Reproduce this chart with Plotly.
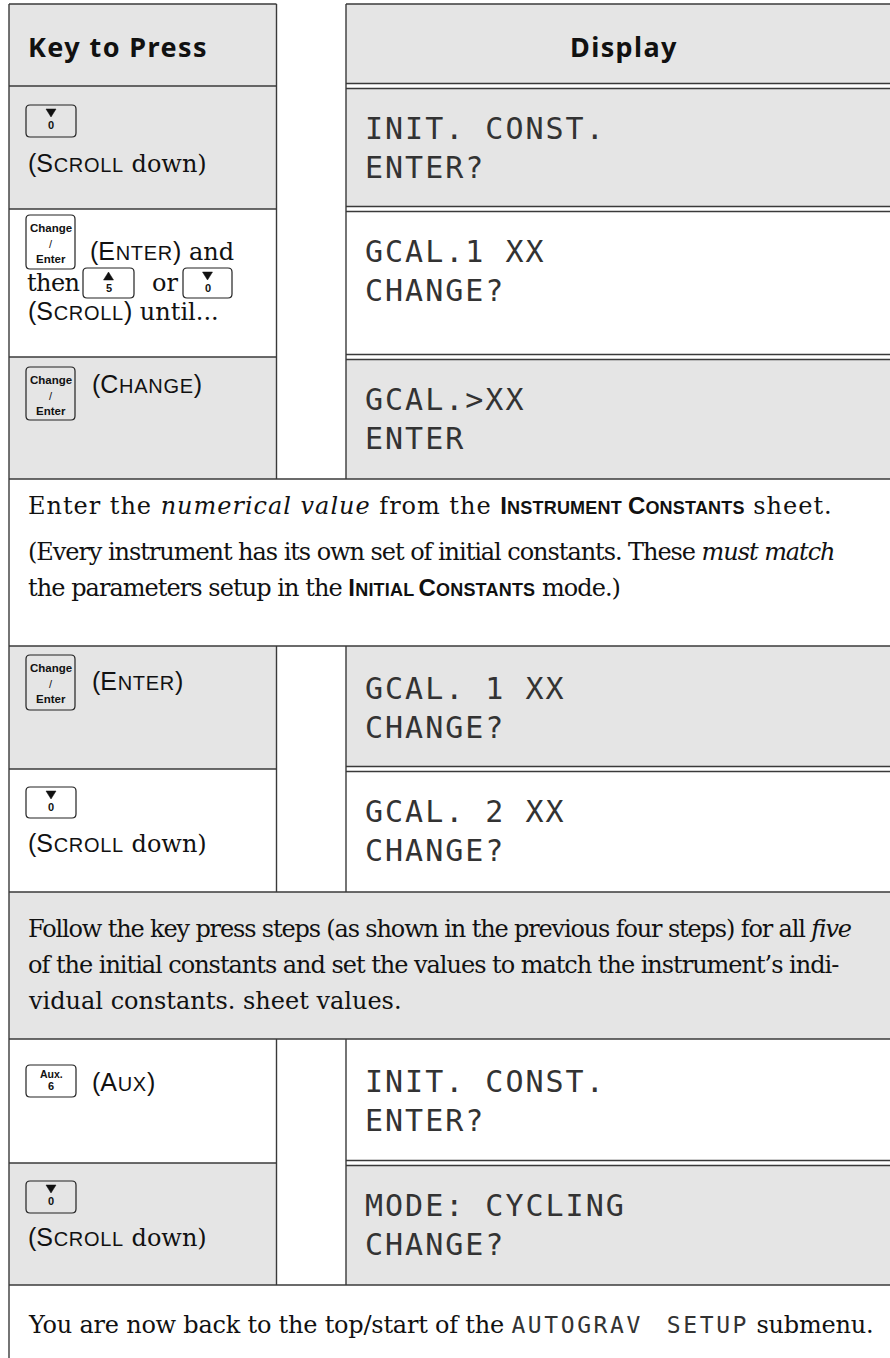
import re
import plotly.graph_objects as go

# ---------------- content ----------------
header_key = "Key to Press"
header_display = "Display"

display_line1 = ["INIT. CONST.", "GCAL.1 XX", "GCAL.>XX", "GCAL. 1 XX", "GCAL. 2 XX", "INIT. CONST.", "MODE: CYCLING"]
display_line2 = ["ENTER?", "CHANGE?", "ENTER", "CHANGE?", "CHANGE?", "ENTER?", "CHANGE?"]

note1_lines = [
    "Enter the <i>numerical value</i> from the {INSTRUMENT CONSTANTS} sheet.",
    "(Every instrument has its own set of initial constants. These <i>must match</i>",
    "the parameters setup in the {INITIAL CONSTANTS} mode.)",
]
note2_lines = [
    "Follow the key press steps (as shown in the previous four steps) for all <i>five</i>",
    "of the initial constants and set the values to match the instrument\u2019s indi-",
    "vidual constants. sheet values.",
]
tail_text = "You are now back to the top/start of the {{AUTOGRAV SETUP}} submenu."

# ---------------- styling / layout ----------------
W, H = 890, 1358
SERIF = "DejaVu Serif"
SANS = "Liberation Sans"
MONO = "DejaVu Sans Mono"
HEAD = "Noto Sans"
GRAY = "#e5e5e5"
LINE = "#3a3a3a"
TXT = "#111111"

XL, XM1, XM2, XR = 9, 276.5, 346, 892
row_edges = [4, 86, 209, 357, 479, 646, 769, 892, 1039, 1163, 1285, 1358]
row_kind = ["head", "step", "step", "step", "note", "step", "step", "note", "step", "step", "tail"]
row_fill = [GRAY, GRAY, "white", GRAY, "white", GRAY, "white", GRAY, "white", GRAY, "white"]

# justification tweaks (letter spacing, px) for the long note lines
note1_spacing = [0.98, -1.05, -0.95]
note2_spacing = [-1.15, -1.02, 0.0]
tail_spacing = -0.22

shapes = []
ann = []


def line(x0, y0, x1, y1, w=1.4, c=LINE):
    shapes.append(dict(type="line", xref="x", yref="y", x0=x0, y0=y0, x1=x1, y1=y1,
                       line=dict(color=c, width=w), layer="above"))


def rect(x0, y0, x1, y1, fill):
    shapes.append(dict(type="rect", xref="x", yref="y", x0=x0, y0=y0, x1=x1, y1=y1,
                       fillcolor=fill, line=dict(width=0), layer="below"))


def text(x, y, s, size=24, family=SERIF, anchor="left", color=TXT):
    ann.append(dict(x=x, y=y, xref="x", yref="y", text=s, showarrow=False,
                    xanchor=anchor, yanchor="middle", align="left",
                    font=dict(family=family, size=size, color=color)))


def sc(word, big=25, small=20, bold=False, spacing=0.7):
    out = []
    for i, w in enumerate(word.split(" ")):
        if i:
            out.append(f'<span style="font-family:{SANS};font-size:{small}px"> </span>')
        out.append(f'<span style="font-family:{SANS};font-size:{big}px;letter-spacing:{spacing}px">{w[0]}</span>'
                   f'<span style="font-family:{SANS};font-size:{small}px;letter-spacing:{spacing}px">{w[1:]}</span>')
    s = "".join(out)
    return f"<b>{s}</b>" if bold else s


def sp(s):
    return f'<span style="font-family:{SANS};font-size:25px">{s}</span>'


def disp(s, size=30, spacing=2.0):
    return f'<span style="font-family:{MONO};font-size:{size}px;letter-spacing:{spacing}px">{s}</span>'


def mono_inline(s, size=23, spacing=2.6):
    parts = s.split(" ")
    gap = f'<span style="font-family:{MONO};font-size:{size}px;letter-spacing:10px">\u00a0</span>'
    return gap.join(f'<span style="font-family:{MONO};font-size:{size}px;letter-spacing:{spacing}px;fill:#333">{p}</span>'
                    for p in parts)


def fmt(s, spacing=0.0):
    s = re.sub(r"\{\{(.+?)\}\}", lambda m: mono_inline(m.group(1)), s)
    s = re.sub(r"\{(.+?)\}", lambda m: sc(m.group(1), big=24, small=18, bold=True, spacing=0.2), s)
    return f'<span style="letter-spacing:{spacing}px">{s}</span>'


def rrect_path(x0, y0, x1, y1, r=4):
    return (f"M{x0+r},{y0} L{x1-r},{y0} Q{x1},{y0} {x1},{y0+r} L{x1},{y1-r} Q{x1},{y1} {x1-r},{y1} "
            f"L{x0+r},{y1} Q{x0},{y1} {x0},{y1-r} L{x0},{y0+r} Q{x0},{y0} {x0+r},{y0} Z")


def key(kind, x0, y0, x1, y1):
    shapes.append(dict(type="path", xref="x", yref="y", path=rrect_path(x0, y0, x1, y1),
                       line=dict(color="#222", width=1.2), fillcolor="rgba(0,0,0,0)", layer="above"))
    cx = (x0 + x1) / 2
    if kind in ("down", "up"):
        if kind == "down":
            p = f"M{cx-5},{y0+4} L{cx+5},{y0+4} L{cx},{y0+12} Z"
            lab = "0"
        else:
            p = f"M{cx-5},{y0+12} L{cx+5},{y0+12} L{cx},{y0+4} Z"
            lab = "5"
        shapes.append(dict(type="path", xref="x", yref="y", path=p, fillcolor="#111",
                           line=dict(color="#111", width=0.5), layer="above"))
        text(cx, y0 + 20, f"<b>{lab}</b>", size=11, family=SANS, anchor="center")
    elif kind == "enter":
        text(cx, y0 + 13, "<b>Change</b>", size=11.5, family=SANS, anchor="center")
        text(cx, y0 + 29, "/", size=11, family=SANS, anchor="center")
        text(cx, y0 + 44, "<b>Enter</b>", size=11.5, family=SANS, anchor="center")
    elif kind == "aux":
        text(cx, y0 + 9, "<b>Aux.</b>", size=10.5, family=SANS, anchor="center")
        text(cx, y0 + 21, "<b>6</b>", size=11, family=SANS, anchor="center")


# ---------------- table frame ----------------
for i, kind in enumerate(row_kind):
    y0, y1 = row_edges[i], row_edges[i + 1]
    if kind in ("head", "step"):
        rect(XL, y0, XM1, y1, row_fill[i])
        rect(XM2, y0, XR, y1, row_fill[i])
    else:
        rect(XL, y0, XR, y1, row_fill[i])

line(XL, row_edges[0], XL, row_edges[-1])
line(XL, row_edges[0], XM1, row_edges[0])
line(XM2, row_edges[0], XR, row_edges[0])

groups = []
i = 0
while i < len(row_kind):
    if row_kind[i] in ("head", "step"):
        j = i
        while j + 1 < len(row_kind) and row_kind[j + 1] in ("head", "step"):
            j += 1
        groups.append((i, j))
        i = j + 1
    else:
        i += 1

for (a, b) in groups:
    top, bot = row_edges[a], row_edges[b + 1]
    line(XM1, top, XM1, bot)
    line(XM2, top, XM2, bot)
    for k in range(a + 1, b + 1):
        y = row_edges[k]
        line(XL, y, XM1, y)
        rect(XM2, y - 2.5, XR, y + 2.5, "white")
        line(XM2, y - 2.5, XR, y - 2.5, w=1.3)
        line(XM2, y + 2.5, XR, y + 2.5, w=1.3)

for i, kind in enumerate(row_kind):
    if kind in ("note", "tail"):
        line(XL, row_edges[i], XR, row_edges[i])
        if kind == "note":
            line(XL, row_edges[i + 1], XR, row_edges[i + 1])

# ---------------- header ----------------
text(26, 46, f'<b><span style="letter-spacing:1.4px">{header_key}</span></b>', size=27, family=HEAD)
text((XM2 + XR) / 2 + 5, 46, f'<b><span style="letter-spacing:1.4px">{header_display}</span></b>', size=27,
     family=HEAD, anchor="center")

# ---------------- key column ----------------
step_rows = [i for i, k in enumerate(row_kind) if k == "step"]
scroll_down = sp("(") + sc("SCROLL") + " down)"

t = row_edges[step_rows[0]]
key("down", 26, t + 19, 76, t + 51)
text(26, t + 77, scroll_down)

t = row_edges[step_rows[1]]
key("enter", 26, t + 6, 75, t + 60)
text(88, t + 42, sp("(") + sc("ENTER") + sp(")") + " and")
text(25, t + 74, '<span style="letter-spacing:-0.6px">then</span>')
key("up", 83, t + 59, 134, t + 89)
text(150, t + 74, "or")
key("down", 183, t + 59, 232, t + 89)
text(26, t + 102, sp("(") + sc("SCROLL") + sp(")") + " until...")

t = row_edges[step_rows[2]]
key("enter", 26, t + 10, 75, t + 63)
text(90, t + 27, sp("(") + sc("CHANGE") + sp(")"))

t = row_edges[step_rows[3]]
key("enter", 26, t + 9, 75, t + 64)
text(90, t + 35, sp("(") + sc("ENTER") + sp(")"))

t = row_edges[step_rows[4]]
key("down", 26, t + 18, 76, t + 49)
text(26, t + 74, scroll_down)

t = row_edges[step_rows[5]]
key("aux", 26, t + 26, 76, t + 58)
text(90, t + 43, sp("(") + sc("AUX") + sp(")"))

t = row_edges[step_rows[6]]
key("down", 26, t + 18, 76, t + 50)
text(26, t + 74, scroll_down)

# ---------------- display column ----------------
for n, r in enumerate(step_rows):
    t = row_edges[r]
    text(363, t + 42, disp(display_line1[n]), family=MONO, color="#333")
    text(363, t + 81, disp(display_line2[n]), family=MONO, color="#333")

# ---------------- notes ----------------
note_rows = [i for i, k in enumerate(row_kind) if k == "note"]
t = row_edges[note_rows[0]]
for s, dy, ls in zip(note1_lines, [27, 73, 109], note1_spacing):
    text(26, t + dy, fmt(s, ls))
t = row_edges[note_rows[1]]
for s, dy, ls in zip(note2_lines, [37, 73, 109], note2_spacing):
    text(26, t + dy, fmt(s, ls))
t = row_edges[row_kind.index("tail")]
text(26, t + 40, fmt(tail_text, tail_spacing))

fig = go.Figure()
fig.add_trace(go.Scatter(x=[], y=[], hoverinfo="skip", showlegend=False))
fig.update_layout(
    width=W, height=H, margin=dict(l=0, r=0, t=0, b=0),
    paper_bgcolor="white", plot_bgcolor="white",
    xaxis=dict(range=[0, W], visible=False, fixedrange=True),
    yaxis=dict(range=[H, 0], visible=False, fixedrange=True),
    shapes=shapes, annotations=ann, showlegend=False,
)
fig.write_html("out.html", config={"displayModeBar": False},
               post_script="document.body.style.margin='0px';document.body.style.overflow='hidden';")
